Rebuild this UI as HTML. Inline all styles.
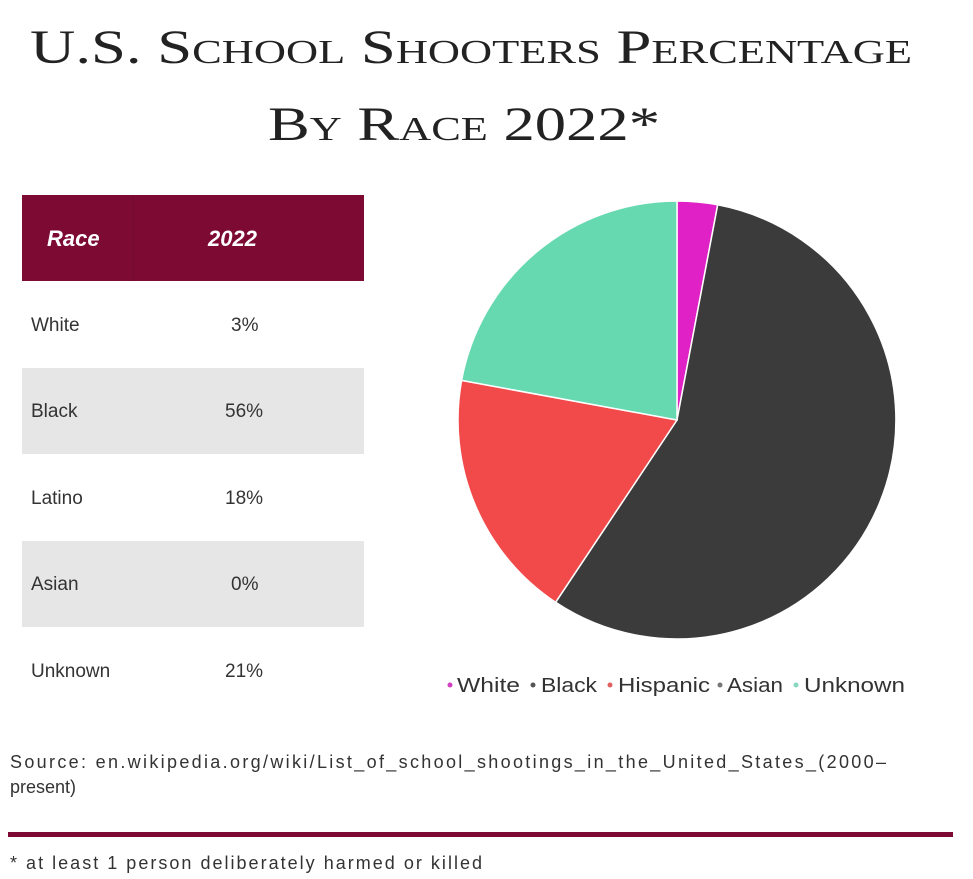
<!DOCTYPE html>
<html><head><meta charset="utf-8"><style>
body{margin:0;background:#fff;width:973px;height:879px;overflow:hidden;position:relative;font-family:"Liberation Sans",sans-serif}
</style></head><body>
<svg width="973" height="879" style="position:absolute;left:0;top:0">
<text x="30" y="63" textLength="882" lengthAdjust="spacingAndGlyphs" font-family="Liberation Serif" font-size="48" fill="#222" style="font-variant:small-caps">U.S. School Shooters Percentage</text>
<text x="268" y="140" textLength="392" lengthAdjust="spacingAndGlyphs" font-family="Liberation Serif" font-size="48" fill="#222" style="font-variant:small-caps">By Race 2022*</text>
<rect x="22" y="195" width="342" height="86" fill="#7d0a33"/>
<line x1="133" y1="195" x2="133" y2="281" stroke="#6e0a2d" stroke-width="1"/>
<text x="47" y="246" font-family="Liberation Sans" font-weight="bold" font-style="italic" font-size="22" fill="#fff">Race</text>
<text x="208" y="246" font-family="Liberation Sans" font-weight="bold" font-style="italic" font-size="22" fill="#fff">2022</text>
<rect x="22" y="368" width="342" height="86" fill="#e6e6e6"/>
<rect x="22" y="541" width="342" height="86" fill="#e6e6e6"/>
<g font-family="Liberation Sans" font-size="19" fill="#333">
<text x="31" y="331">White</text><text x="231" y="331">3%</text>
<text x="31" y="417">Black</text><text x="225" y="417">56%</text>
<text x="31" y="504">Latino</text><text x="225" y="504">18%</text>
<text x="31" y="590">Asian</text><text x="231" y="590">0%</text>
<text x="31" y="677">Unknown</text><text x="225" y="677">21%</text>
</g>
<g stroke="#fff" stroke-width="1.5">
<path d="M677,420 L677,201 A219,219 0 0 1 717.7,204.8 Z" fill="#e021c6"/>
<path d="M677,420 L717.7,204.8 A219,219 0 1 1 555.6,602.3 Z" fill="#3b3b3b"/>
<path d="M677,420 L555.6,602.3 A219,219 0 0 1 461.6,380.4 Z" fill="#f24a4a"/>
<path d="M677,420 L461.6,380.4 A219,219 0 0 1 677,201 Z" fill="#66d9b1"/>
</g>
<g font-family="Liberation Sans" font-size="20" fill="#333">
<circle cx="450" cy="685" r="2.5" fill="#d040c0"/><text x="457" y="692" textLength="63" lengthAdjust="spacingAndGlyphs">White</text>
<circle cx="533" cy="685" r="2.5" fill="#555"/><text x="541" y="692" textLength="56" lengthAdjust="spacingAndGlyphs">Black</text>
<circle cx="610" cy="685" r="2.5" fill="#e06060"/><text x="618" y="692" textLength="92" lengthAdjust="spacingAndGlyphs">Hispanic</text>
<circle cx="720" cy="685" r="2.5" fill="#777"/><text x="727" y="692" textLength="56" lengthAdjust="spacingAndGlyphs">Asian</text>
<circle cx="796" cy="685" r="2.5" fill="#88d8c0"/><text x="804" y="692" textLength="101" lengthAdjust="spacingAndGlyphs">Unknown</text>
</g>
<g font-family="Liberation Sans" font-size="18" fill="#333">
<text x="10" y="768" textLength="876" lengthAdjust="spacing">Source: en.wikipedia.org/wiki/List_of_school_shootings_in_the_United_States_(2000–</text>
<text x="10" y="793">present)</text>
<text x="10" y="869" textLength="472" lengthAdjust="spacing">* at least 1 person deliberately harmed or killed</text>
</g>
<rect x="8" y="832" width="945" height="5" fill="#7d0a33"/>
</svg>
</body></html>
